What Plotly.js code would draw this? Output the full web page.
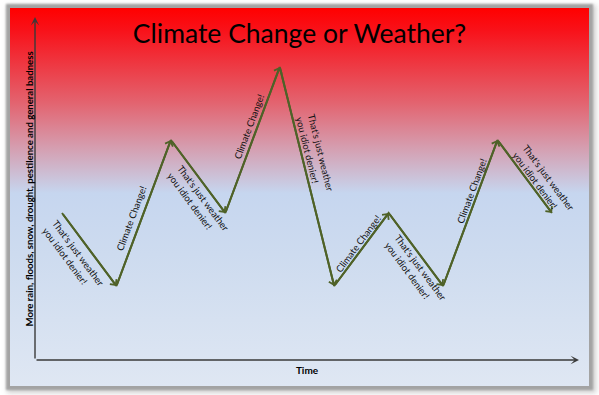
<!DOCTYPE html>
<html>
<head>
<meta charset="utf-8">
<script src="https://cdn.plot.ly/plotly-3.0.1.min.js"></script>
<style>
  html, body { margin:0; padding:0; background:#ffffff; }
  #card {
    position:absolute; left:10px; top:8px; width:579px; height:378px;
    background: linear-gradient(to bottom, #ff0000 0%, #f8121a 6%, #e3636f 25%, #d59eb0 37%, #c6d6ef 49%, #cddbef 65%, #dfe7f3 100%);
    box-shadow: 0 0 2px 4px #a3a3a3, 2px 2px 5px 5px rgba(120,120,120,0.35);
  }
  #chart { position:absolute; left:0; top:0; width:599px; height:395px; }
</style>
</head>
<body>
<div id="card"></div>
<div id="chart"></div>
<script>
// ---- data ----
var timeSteps = [0, 1, 2, 3, 4, 5, 6, 7, 8, 9];
var badness   = [1, 0, 2, 1, 3, 0, 1, 0, 2, 1];
var segmentLabels = [
  "That's just weather<br>you idiot denier!",
  "Climate Change!",
  "That's just weather<br>you idiot denier!",
  "Climate Change!",
  "That's just weather<br>you idiot denier!",
  "Climate Change!",
  "That's just weather<br>you idiot denier!",
  "Climate Change!",
  "That's just weather<br>you idiot denier!"
];
var chartTitle = "Climate Change or Weather?";
var xTitle = "Time";
var yTitle = "More rain, floods, snow, drought, pestilence and general badness";

// ---- layout / style ----
var W = 599, H = 395;
var margin = {l:35, r:20, t:17, b:35};
var xRange = [-0.496, 9.497];
var yRange = [-1.014, 3.685];
var lineColor = '#4F6228';
var axisColor = '#3a3a3a';
var font = 'Lato, "Open Sans", sans-serif';
// label pixel offsets (dx right, dy down) from segment midpoints
var labelOffsets = [[-16,7],[-12,6],[0,25],[-4,-13],[8,-22],[-3,-6],[0,22],[2,-22],[19,5]];

var plotW = W - margin.l - margin.r, plotH = H - margin.t - margin.b;
var pxX = plotW / (xRange[1] - xRange[0]);
var pxY = plotH / (yRange[1] - yRange[0]);

var annotations = [];
for (var i = 0; i < timeSteps.length - 1; i++) {
  // arrow for each segment
  annotations.push({
    x: timeSteps[i+1], y: badness[i+1], ax: timeSteps[i], ay: badness[i],
    xref:'x', yref:'y', axref:'x', ayref:'y', text:'', showarrow:true,
    arrowhead:4, arrowsize:0.8, arrowwidth:2, arrowcolor:lineColor, standoff:0
  });
  var dxp = (timeSteps[i+1] - timeSteps[i]) * pxX;
  var dyp = -(badness[i+1] - badness[i]) * pxY;
  var ang = Math.atan2(dyp, dxp) * 180 / Math.PI;
  annotations.push({
    x: (timeSteps[i] + timeSteps[i+1]) / 2, y: (badness[i] + badness[i+1]) / 2,
    xref:'x', yref:'y', text: segmentLabels[i], showarrow:false,
    textangle: ang, align:'left',
    xshift: labelOffsets[i][0], yshift: -labelOffsets[i][1],
    font:{family:font, size:9.5, color:'#111'}
  });
}
// axis arrows
annotations.push({x:1, y:0, xref:'paper', yref:'paper', ax:-plotW, ay:0, axref:'pixel', ayref:'pixel',
  text:'', showarrow:true, arrowhead:3, arrowsize:1, arrowwidth:1.4, arrowcolor:axisColor, standoff:0});
annotations.push({x:0, y:1, xref:'paper', yref:'paper', ax:0, ay:plotH, axref:'pixel', ayref:'pixel',
  text:'', showarrow:true, arrowhead:3, arrowsize:1, arrowwidth:1.4, arrowcolor:axisColor, standoff:0});
// y-axis title placed beside the axis line
annotations.push({x:0, y:0.5 - 1/plotH, xref:'paper', yref:'paper', xanchor:'center', yanchor:'middle',
  xshift:-6, text:yTitle, showarrow:false, textangle:-90,
  font:{family:font, size:9.6, color:'#000', weight:'bold'}});

var trace = {
  x: timeSteps, y: badness, type:'scatter', mode:'lines',
  line:{color:lineColor, width:2}, hoverinfo:'skip', showlegend:false
};

var layout = {
  width:W, height:H, margin:margin,
  paper_bgcolor:'rgba(0,0,0,0)', plot_bgcolor:'rgba(0,0,0,0)',
  title:{text:chartTitle, x:0.5, xanchor:'center', y:1 - 34/H, yanchor:'middle',
         font:{family:font, size:26.5, color:'#000'}},
  xaxis:{range:xRange, showgrid:false, zeroline:false, showticklabels:false, ticks:'', showline:false, fixedrange:true,
         title:{text:xTitle, standoff:6, font:{family:font, size:10, color:'#000', weight:'bold'}}},
  yaxis:{range:yRange, showgrid:false, zeroline:false, showticklabels:false, ticks:'', showline:false, fixedrange:true},
  annotations: annotations,
  showlegend:false
};

Plotly.newPlot('chart', [trace], layout, {staticPlot:true, displayModeBar:false});
</script>
</body>
</html>
